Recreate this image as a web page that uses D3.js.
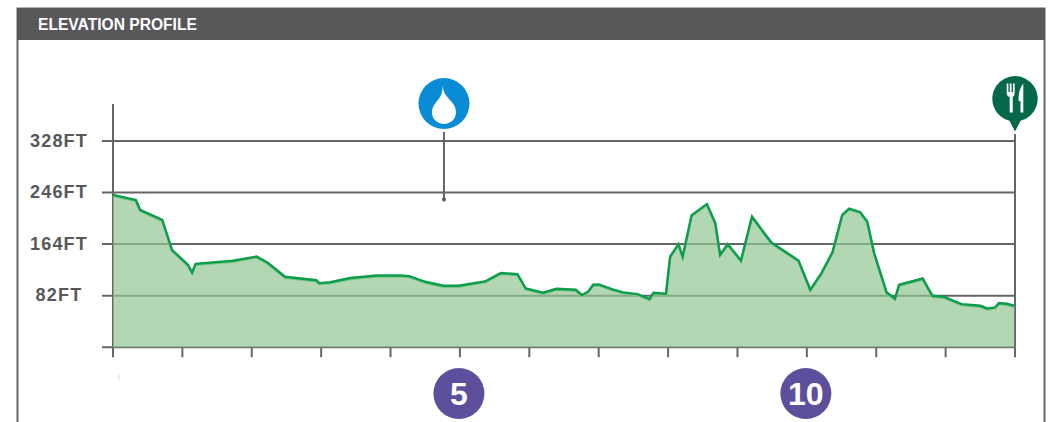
<!DOCTYPE html>
<html>
<head>
<meta charset="utf-8">
<script src="https://cdn.jsdelivr.net/npm/d3@7"></script>
<style>
  html, body { margin: 0; padding: 0; background: #fff; }
  svg { display: block; font-family: "Liberation Sans", Arial, sans-serif; }
  .domain { display: none; }
</style>
</head>
<body>
<svg width="1053" height="422"></svg>
<script>
// elevation along the route
var miles = [0, 0.33, 0.39, 0.71, 0.85, 1.08, 1.14, 1.19, 1.73, 2.07, 2.23, 2.48, 2.93, 2.97, 3.13, 3.42,
  3.80, 4.14, 4.27, 4.50, 4.76, 4.98, 5.36, 5.59, 5.83, 5.95, 6.20, 6.39, 6.67, 6.76, 6.85, 6.92,
  7.00, 7.19, 7.35, 7.56, 7.73, 7.79, 7.97, 8.03, 8.15, 8.21, 8.34, 8.56, 8.68, 8.75, 8.86, 9.05,
  9.21, 9.35, 9.49, 9.88, 10.05, 10.21, 10.37, 10.51, 10.61, 10.77, 10.87, 10.97, 11.15, 11.27, 11.33,
  11.67, 11.81, 11.97, 12.23, 12.50, 12.60, 12.71, 12.77, 12.88, 12.99];
var feet = [242.3, 233.9, 218.5, 202.6, 154.9, 131.1, 118.9, 132.7, 137.5, 144.3, 134.3, 112, 106.5, 102, 103.3, 110,
  114.1, 114.1, 113.1, 104.1, 97.7, 97.7, 104.6, 117.9, 116.3, 93.4, 86.6, 93, 91.4, 83, 88.7, 99.3,
  99.8, 92.5, 87.1, 84.5, 76.6, 86.6, 85, 144.3, 164, 144.3, 210.1, 227.6, 197.4, 147, 164, 137.9,
  207.9, 186.7, 166.5, 137.9, 91.4, 117.9, 151.3, 210.6, 220.6, 214.8, 199.9, 149.7, 87.1, 77.5, 99.3,
  109.3, 81.8, 80.3, 68.6, 65.9, 61.7, 63.2, 70.2, 69.1, 65.9];
var yTicks = [0, 82, 164, 246, 328];
var xTicks = [0, 1, 2, 3, 4, 5, 6, 7, 8, 9, 10, 11, 12, 13];
var mileBadges = [5, 10];
var waterMile = 4.77, waterFeet = 235;
var foodMile = 13;

var svg = d3.select('svg');
var left = 113, right = 1015, bottom = 347.2;
var grey = '#666667';

var xScale = d3.scaleLinear().domain([0, 13]).range([left, right]);
var yScale = d3.scaleLinear().domain([0, 328]).range([bottom, 141]);

// frame and header
svg.append('path')
  .attr('d', 'M17.5,422V8.5H1044.5V422')
  .attr('fill', 'none')
  .attr('stroke', grey)
  .attr('stroke-width', 2);
svg.append('rect')
  .attr('x', 17).attr('y', 8).attr('width', 1028).attr('height', 32)
  .attr('fill', '#58585a');
svg.append('text')
  .attr('x', 38).attr('y', 30)
  .attr('fill', '#fff')
  .attr('font-size', 15.6)
  .attr('font-weight', 'bold')
  .text('ELEVATION PROFILE');

// axes
var yAxis = d3.axisLeft(yScale)
  .tickValues(yTicks)
  .tickSize(0)
  .offset(0)
  .tickFormat(function(d){ return d ? d + 'FT' : ''; });
var gy = svg.append('g')
  .attr('transform', 'translate(' + left + ',0)')
  .call(yAxis);
gy.selectAll('.tick').append('line')
  .attr('x1', 102 - left)
  .attr('x2', right - left)
  .attr('stroke', grey)
  .attr('stroke-width', 2);
gy.selectAll('text')
  .attr('x', 59 - left)
  .attr('text-anchor', 'middle')
  .attr('fill', '#58585a')
  .attr('font-size', 18)
  .attr('font-weight', 'bold')
  .attr('letter-spacing', 1.2)
  .attr('font-family', '"Liberation Sans", Arial, sans-serif');

var xAxis = d3.axisBottom(xScale)
  .tickValues(xTicks)
  .tickSize(10)
  .offset(0)
  .tickFormat('');
var gx = svg.append('g')
  .attr('transform', 'translate(0,' + bottom + ')')
  .call(xAxis);
gx.selectAll('line').attr('stroke', grey).attr('stroke-width', 2);

// vertical lines at both ends
svg.append('line')
  .attr('x1', left).attr('x2', left).attr('y1', 104).attr('y2', bottom)
  .attr('stroke', grey).attr('stroke-width', 2);
svg.append('line')
  .attr('x1', right).attr('x2', right).attr('y1', 134).attr('y2', bottom)
  .attr('stroke', grey).attr('stroke-width', 2);

// profile
var points = d3.zip(miles, feet);
var area = d3.area()
  .x(function(d){ return xScale(d[0]); })
  .y0(yScale(0))
  .y1(function(d){ return yScale(d[1]); });
var line = d3.line()
  .x(function(d){ return xScale(d[0]); })
  .y(function(d){ return yScale(d[1]); });
svg.append('path')
  .datum(points)
  .attr('d', area)
  .attr('fill', 'rgb(146,198,146)')
  .attr('fill-opacity', 0.7);
svg.append('path')
  .datum(points)
  .attr('d', line)
  .attr('fill', 'none')
  .attr('stroke', '#7cc48e')
  .attr('stroke-width', 2.4)
  .attr('transform', 'translate(0,1)');
svg.append('path')
  .datum(points)
  .attr('d', line)
  .attr('fill', 'none')
  .attr('stroke', '#0d9c4a')
  .attr('stroke-width', 2.4)
  .attr('stroke-linejoin', 'miter');

// water marker
var wx = xScale(waterMile);
svg.append('line')
  .attr('x1', wx).attr('x2', wx).attr('y1', 132).attr('y2', yScale(waterFeet))
  .attr('stroke', grey).attr('stroke-width', 2);
svg.append('circle')
  .attr('cx', wx).attr('cy', yScale(waterFeet)).attr('r', 2)
  .attr('fill', '#58585a');
var water = svg.append('g').attr('transform', 'translate(' + wx + ',103.5)');
water.append('circle').attr('r', 25.5).attr('fill', '#0a8bd6');
water.append('path')
  .attr('d', 'M-1.3,-18.5C-1,-11 2,-8 6,-3.5C10,0.5 12,4 12,9C12,15.5 6.5,20.5 0,20.5C-6.5,20.5 -12,15.5 -12,9C-12,4 -9.5,0.5 -6,-3.5C-2.5,-8 -1.5,-11 -1.3,-18.5Z')
  .attr('fill', '#fff');

// food marker
var food = svg.append('g').attr('transform', 'translate(' + xScale(foodMile) + ',99)');
food.append('path')
  .attr('d', 'M-5.5,21.8A22.7,22.7 0 1 1 5.5,21.8L0,32.5Z')
  .attr('fill', '#05684a');
food.append('path')
  .attr('d', 'M-8.3,-15.5H-6.6V-7H-5.2V-15.5H-3.4V-7H-2V-15.5H-0.3V-6C-0.3,-3.5 -1.5,-2.5 -2.3,-2V13.5H-5.3V-2C-7,-2.5 -8.3,-3.5 -8.3,-6Z')
  .attr('fill', '#fff');
food.append('path')
  .attr('d', 'M8.3,-15.5C5.5,-12 3.6,-7 3.6,-1.5V2H5.5V13.5H8.3Z')
  .attr('fill', '#fff');

// mile badges
var badges = svg.selectAll('.badge')
  .data(mileBadges)
  .enter()
  .append('g')
  .attr('class', 'badge')
  .attr('transform', function(d){ return 'translate(' + (xScale(d) - 1) + ',393.5)'; });
badges.append('circle')
  .attr('r', 25.5)
  .attr('fill', '#5d4f9c');
badges.append('text')
  .attr('text-anchor', 'middle')
  .attr('y', 11)
  .attr('fill', '#fff')
  .attr('font-size', 32)
  .attr('font-weight', 'bold')
  .text(function(d){ return d; });

// small stray mark under the first tick
svg.append('rect')
  .attr('x', 118).attr('y', 374.5).attr('width', 1.5).attr('height', 5)
  .attr('fill', '#dbe4f0');
</script>
</body>
</html>
